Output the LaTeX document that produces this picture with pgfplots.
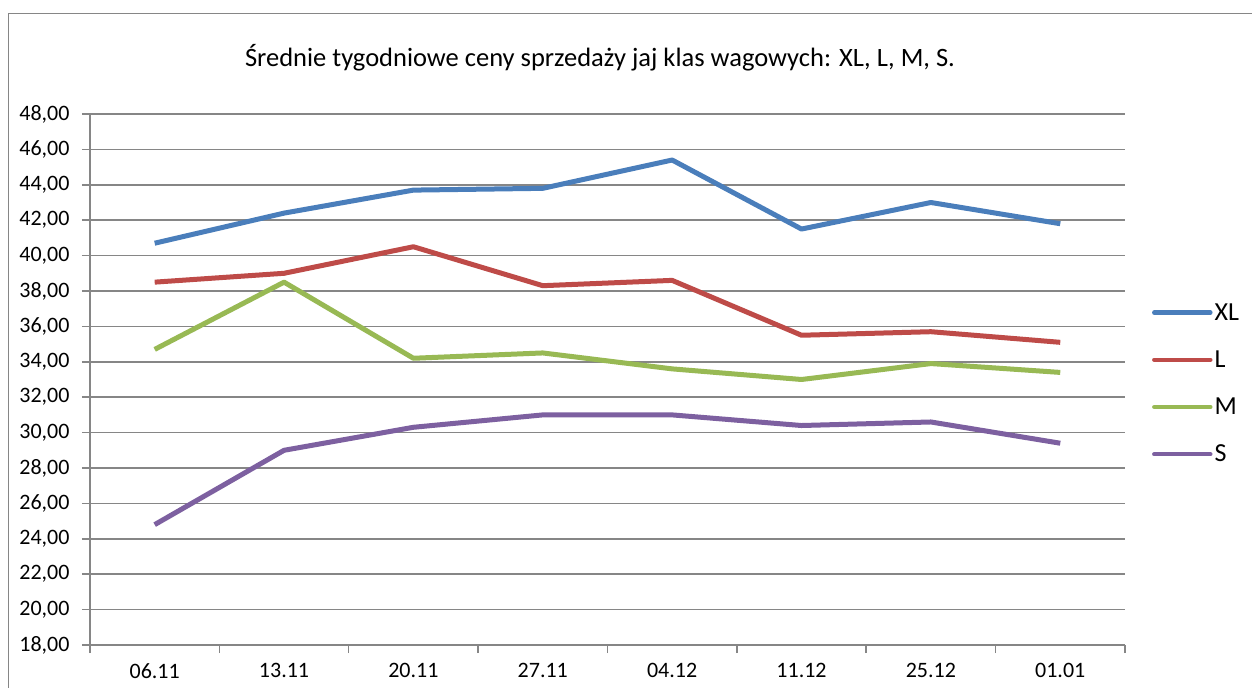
\documentclass[border=0pt]{standalone}
\usepackage{pgfplots}
\pgfplotsset{compat=1.18}
\usepackage{fontspec}
\setmainfont{Carlito}
\definecolor{cXL}{HTML}{4A7EBB}
\definecolor{cL}{HTML}{BE4B48}
\definecolor{cM}{HTML}{98B954}
\definecolor{cS}{HTML}{7D60A0}
\definecolor{gridc}{HTML}{868686}
\begin{document}
\begin{tikzpicture}
\useasboundingbox (0,0) rectangle (1252bp,688bp);
\draw[gridc, line width=1.5bp] (8.5bp,-5bp) |- (1260bp,674.5bp);
\node[font=\fontsize{26.5bp}{30bp}\selectfont, anchor=base] at (600bp,621bp) {Średnie tygodniowe ceny sprzedaży jaj klas wagowych: XL, L, M, S.};
\begin{axis}[
  at={(90bp,43bp)}, anchor=south west,
  width=1035bp, height=531bp, scale only axis,
  xmin=-0.5, xmax=7.5, ymin=18, ymax=48,
  axis x line*=bottom, axis y line*=left,
  axis line style={gridc, line width=1.5bp},
  xtick={-0.5,0.5,...,7.5}, xticklabels={},
  extra x ticks={0,1,2,3,4,5,6,7},
  extra x tick labels={06.11,13.11,20.11,27.11,04.12,11.12,25.12,01.01},
  extra x tick style={major tick length=0pt, grid=none},
  ytick={18,20,...,48},
  tick align=outside, major tick length=8bp,
  tick style={gridc, line width=1.5bp},
  ymajorgrids, grid style={gridc, line width=1.5bp},
  /pgf/number format/fixed, /pgf/number format/fixed zerofill,
  /pgf/number format/precision=2, /pgf/number format/use comma,
  /pgf/number format/assume math mode=true,
  ticklabel style={font=\fontsize{22bp}{26bp}\selectfont},
  xticklabel style={yshift=-15bp},
  yticklabel style={xshift=-9bp},
  legend style={at={(1.026,0.4925)}, anchor=west, draw=none, fill=none,
    font=\fontsize{26bp}{30bp}\selectfont, row sep=25bp, inner xsep=0pt},
  legend cell align=left,
  legend image code/.code={\draw[#1, line width=4.5bp, line cap=round] (0bp,0bp) -- (56bp,0bp);},
  every axis plot/.append style={line width=5bp, line join=round},
]
\addplot[cXL] coordinates {(0,40.7) (1,42.4) (2,43.7) (3,43.8) (4,45.4) (5,41.5) (6,43.0) (7,41.8)};
\addlegendentry[xshift=-4bp]{XL}
\addplot[cL] coordinates {(0,38.5) (1,39.0) (2,40.5) (3,38.3) (4,38.6) (5,35.5) (6,35.7) (7,35.1)};
\addlegendentry[xshift=-4bp]{L}
\addplot[cM] coordinates {(0,34.7) (1,38.5) (2,34.2) (3,34.5) (4,33.6) (5,33.0) (6,33.9) (7,33.4)};
\addlegendentry[xshift=-4bp]{M}
\addplot[cS] coordinates {(0,24.8) (1,29.0) (2,30.3) (3,31.0) (4,31.0) (5,30.4) (6,30.6) (7,29.4)};
\addlegendentry[xshift=-4bp]{S}
\end{axis}
\end{tikzpicture}
\end{document}
